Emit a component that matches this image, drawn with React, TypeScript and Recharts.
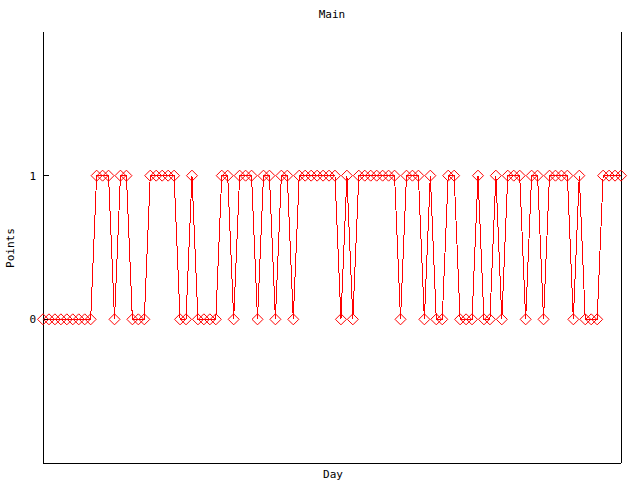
import React from 'react';
import { LineChart, Line, XAxis, YAxis } from 'recharts';

// Points per day (0 or 1)
const days: number[] = Array.from({ length: 98 }, (_, i) => i);
const points: number[] = [
  0, 0, 0, 0, 0, 0, 0, 0, 0, 1,
  1, 1, 0, 1, 1, 0, 0, 0, 1, 1,
  1, 1, 1, 0, 0, 1, 0, 0, 0, 0,
  1, 1, 0, 1, 1, 1, 0, 1, 1, 0,
  1, 1, 0, 1, 1, 1, 1, 1, 1, 1,
  0, 1, 0, 1, 1, 1, 1, 1, 1, 1,
  0, 1, 1, 1, 0, 1, 0, 0, 1, 1,
  0, 0, 0, 1, 0, 0, 1, 0, 1, 1,
  1, 0, 1, 1, 0, 1, 1, 1, 1, 0,
  1, 0, 0, 0, 1, 1, 1, 1,
];
const yTicks: number[] = [0, 1];
const yDomain: [number, number] = [-1, 2];

const data = days.map((d, i) => ({ day: d, value: points[i] }));

const FONT = '"DejaVu Sans Mono", monospace';

const Diamond = (props: any) => {
  const { cx, cy, index } = props;
  if (cx == null || cy == null) return <g key={`d-${index}`} />;
  const r = 5.5;
  return (
    <path
      key={`d-${index}`}
      d={`M${cx},${cy - r}L${cx + r},${cy}L${cx},${cy + r}L${cx - r},${cy}Z`}
      fill="none"
      stroke="#ff0000"
      strokeWidth={1}
    />
  );
};

const NoTick = () => <g />;

export default function App() {
  return (
    <div style={{ position: 'absolute', left: 0, top: 0, width: 640, height: 480, background: '#fff' }}>
      <style>{`.crisp svg line, .crisp svg .recharts-line-curve { shape-rendering: crispEdges; }`}</style>
      <div className="crisp">
        <LineChart
          width={640}
          height={480}
          data={data}
          margin={{ top: 32, right: 0, bottom: 0, left: 0 }}
        >
          <XAxis
            dataKey="day"
            type="number"
            domain={[0, 97]}
            xAxisId="bottom"
            orientation="bottom"
            height={17}
            tick={false}
            tickLine={false}
            axisLine={{ stroke: '#000' }}
          />
          <XAxis
            dataKey="day"
            type="number"
            domain={[0, 97]}
            xAxisId="top"
            orientation="top"
            height={0}
            tick={false}
            tickLine={false}
            axisLine={{ stroke: '#000' }}
          />
          <YAxis
            yAxisId="left"
            orientation="left"
            width={43}
            domain={yDomain}
            ticks={yTicks}
            type="number"
            tickSize={-6}
            tickMargin={13}
            tickLine={{ stroke: '#000' }}
            axisLine={{ stroke: '#000' }}
            tick={{ fill: '#000', fontFamily: FONT, fontSize: 11 }}
          />
          <YAxis
            yAxisId="right"
            orientation="right"
            width={19}
            domain={yDomain}
            ticks={yTicks}
            type="number"
            tickSize={-6}
            tickLine={{ stroke: '#000' }}
            axisLine={{ stroke: '#000' }}
            tick={NoTick}
          />
          <Line
            xAxisId="bottom"
            yAxisId="left"
            type="linear"
            dataKey="value"
            stroke="#ff0000"
            strokeWidth={1}
            dot={Diamond}
            activeDot={false}
            isAnimationActive={false}
          />
        </LineChart>
      </div>
      <div
        style={{
          position: 'absolute', left: 0, top: 8, width: 664, textAlign: 'center',
          fontFamily: FONT, fontSize: 11, lineHeight: '14px', color: '#000',
        }}
      >
        Main
      </div>
      <div
        style={{
          position: 'absolute', left: 0, top: 468, width: 666, textAlign: 'center',
          fontFamily: FONT, fontSize: 11, lineHeight: '14px', color: '#000',
        }}
      >
        Day
      </div>
      <div
        style={{
          position: 'absolute', left: 11, top: 248, width: 0, height: 0,
        }}
      >
        <div
          style={{
            position: 'absolute', left: -50, top: -7, width: 100, textAlign: 'center',
            fontFamily: FONT, fontSize: 11, lineHeight: '14px', color: '#000',
            transform: 'rotate(-90deg)',
          }}
        >
          Points
        </div>
      </div>
    </div>
  );
}
